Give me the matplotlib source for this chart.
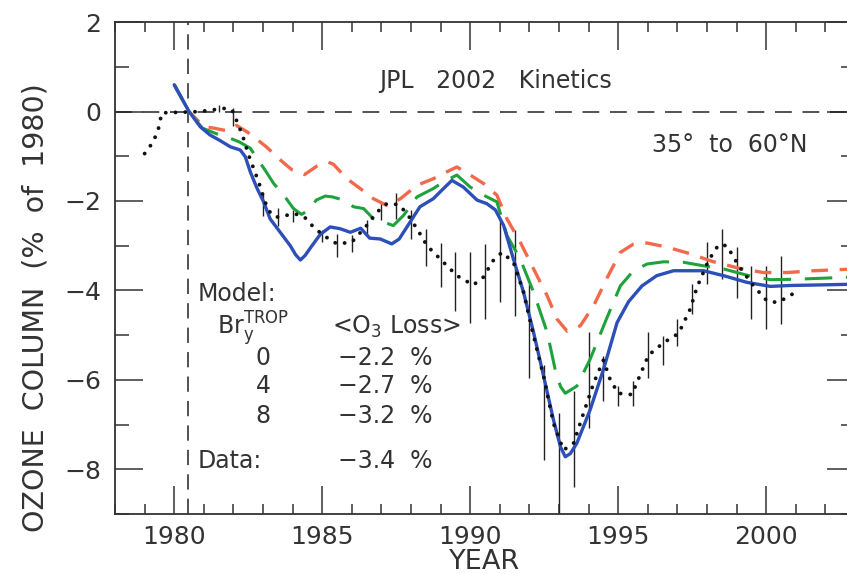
"""
column ozone trend, 35-60N, model runs with different Bry(TROP) vs data
"""

import numpy as np
import matplotlib.pyplot as plt
from matplotlib.ticker import MultipleLocator

plt.rcParams["font.family"] = ["DejaVu Sans"]

# model, Bry_TROP = 8 ppt
yr_b8 = [1980.0, 1980.5, 1980.88, 1981.2, 1981.55, 1981.9, 1982.23, 1982.4, 1982.57,
         1982.8, 1983.02, 1983.24, 1983.58, 1983.92, 1984.1, 1984.26, 1984.42, 1984.6,
         1984.93, 1985.27, 1985.6, 1985.95, 1986.3, 1986.6, 1986.96, 1987.35, 1987.6,
         1987.97, 1988.3, 1988.75, 1989.1, 1989.38, 1989.77, 1990.23, 1990.56, 1990.85,
         1991.13, 1991.46, 1991.8, 1992.14, 1992.48, 1992.81, 1993.05, 1993.21, 1993.38,
         1993.6, 1994.05, 1994.5, 1994.96, 1995.35, 1995.8, 1996.3, 1996.87, 1997.43,
         1997.88, 1998.56, 1999.35, 2000.14, 2000.8, 2001.6, 2003.0]
o3_b8 = [0.6, 0.0, -0.34, -0.52, -0.65, -0.79, -0.86, -1.01, -1.35,
         -1.72, -2.02, -2.4, -2.7, -3.0, -3.2, -3.32, -3.22, -3.05,
         -2.75, -2.58, -2.62, -2.70, -2.61, -2.83, -2.85, -2.96, -2.85,
         -2.47, -2.13, -1.95, -1.72, -1.54, -1.69, -1.98, -2.06, -2.2,
         -2.55, -3.30, -4.04, -4.94, -5.92, -6.89, -7.5, -7.72, -7.65,
         -7.42, -6.67, -5.77, -4.72, -4.25, -3.9, -3.67, -3.56, -3.56,
         -3.56, -3.67, -3.82, -3.91, -3.89, -3.88, -3.86]

# model, Bry_TROP = 4 ppt
yr_b4 = [1980.0, 1980.5, 1980.95, 1981.44, 1981.9, 1982.2, 1982.57, 1982.8, 1983.07,
         1983.36, 1983.7, 1984.03, 1984.3, 1984.55, 1984.8, 1985.1, 1985.35, 1985.72,
         1986.06, 1986.4, 1986.73, 1987.07, 1987.4, 1987.75, 1988.2, 1988.76, 1989.1,
         1989.55, 1990.0, 1990.45, 1990.9, 1991.24, 1991.69, 1992.14, 1992.6, 1992.87,
         1993.05, 1993.21, 1993.6, 1994.05, 1994.6, 1995.07, 1995.5, 1995.97, 1996.53,
         1997.2, 1997.88, 1998.56, 1999.35, 2000.14, 2001.0, 2003.0]
o3_b4 = [0.6, 0.0, -0.37, -0.5, -0.6, -0.68, -0.82, -1.05, -1.31,
         -1.61, -1.87, -2.17, -2.3, -2.2, -1.98, -1.89, -1.91, -1.98,
         -2.13, -2.17, -2.40, -2.47, -2.55, -2.32, -1.91, -1.72, -1.57,
         -1.42, -1.69, -1.87, -2.02, -2.77, -3.30, -4.04, -4.94, -5.77,
         -6.15, -6.30, -6.14, -5.54, -4.64, -3.9, -3.57, -3.41, -3.36,
         -3.37, -3.45, -3.52, -3.66, -3.76, -3.75, -3.70]

# model, Bry_TROP = 0
yr_b0 = [1980.0, 1980.5, 1981.0, 1981.33, 1981.78, 1982.1, 1982.57, 1983.13, 1983.58,
         1983.97, 1984.4, 1984.82, 1985.2, 1985.38, 1985.83, 1986.28, 1986.73, 1987.18,
         1987.64, 1988.2, 1988.76, 1989.2, 1989.55, 1990.0, 1990.45, 1990.9, 1991.24,
         1991.69, 1992.14, 1992.6, 1992.93, 1993.27, 1993.72, 1994.17, 1994.6, 1995.07,
         1995.5, 1995.97, 1996.64, 1997.43, 1998.22, 1999.12, 1999.9, 2000.7, 2001.6,
         2003.0]
o3_b0 = [0.6, 0.0, -0.34, -0.37, -0.43, -0.31, -0.5, -0.8, -1.08,
         -1.3, -1.41, -1.22, -1.13, -1.18, -1.5, -1.72, -1.95, -2.1,
         -1.95, -1.65, -1.5, -1.35, -1.24, -1.42, -1.61, -1.87, -2.40,
         -2.92, -3.52, -4.12, -4.64, -4.91, -4.79, -4.34, -3.75, -3.15,
         -2.97, -2.94, -3.03, -3.18, -3.36, -3.51, -3.60, -3.60, -3.56,
         -3.52]

# observations
yr_obs = [1979.0, 1979.3, 1979.47, 1979.58, 1980.0, 1980.5, 1980.88, 1981.33, 1981.67,
          1981.95, 1982.17, 1982.34, 1982.51, 1982.68, 1982.85, 1982.96, 1983.13, 1983.3,
          1983.5, 1983.8, 1984.05, 1984.4, 1984.7, 1985.04, 1985.5, 1986.0, 1986.5,
          1986.85, 1987.18, 1987.58, 1987.86, 1988.2, 1988.54, 1988.99, 1989.55, 1990.1,
          1990.45, 1990.75, 1991.07, 1991.46, 1991.8, 1992.14, 1992.48, 1992.81, 1993.15,
          1993.49, 1993.83, 1994.17, 1994.5, 1994.73, 1995.0, 1995.46, 1996.02, 1996.53,
          1997.04, 1997.43, 1997.66, 1998.05, 1998.39, 1998.67, 1999.07, 1999.57, 2000.02,
          2000.36, 2000.7, 2000.98]
o3_obs = [-0.94, -0.67, -0.37, -0.03, -0.02, -0.01, 0.0, 0.04, 0.07,
          0.04, -0.3, -0.6, -0.97, -1.27, -1.57, -1.8, -2.13, -2.32,
          -2.36, -2.32, -2.28, -2.36, -2.58, -2.77, -2.96, -2.92, -2.55,
          -2.25, -2.06, -2.08, -2.28, -2.62, -3.0, -3.30, -3.67, -3.88,
          -3.7, -3.35, -3.15, -3.37, -4.04, -5.02, -5.92, -6.97, -7.57,
          -7.42, -6.74, -6.07, -5.56, -6.0, -6.3, -6.33, -5.45, -5.17,
          -4.96, -4.42, -3.93, -3.33, -2.98, -3.0, -3.45, -3.90, -4.23,
          -4.27, -4.16, -4.04]

# observational uncertainty ranges
bar_yr = [1981.5, 1982.0, 1983.0, 1983.5, 1984.0, 1985.0, 1985.5, 1986.0, 1986.5,
          1987.0, 1987.5, 1988.0, 1988.5, 1989.0, 1989.5, 1990.0, 1990.5, 1991.0,
          1991.5, 1992.0, 1992.5, 1993.0, 1993.5, 1994.0, 1994.5, 1995.0, 1995.5,
          1996.0, 1996.5, 1997.0, 1997.5, 1998.0, 1998.5, 1999.0, 1999.5, 2000.0,
          2000.5]
bar_hi = [0.15, 0.07, -1.85, -2.15, -2.21, -2.64, -2.73, -2.77, -2.43,
          -2.02, -1.83, -2.20, -2.62, -2.94, -3.15, -3.15, -2.96, -2.43,
          -2.66, -3.86, -5.66, -6.74, -6.25, -4.94, -5.47, -6.14, -6.03,
          -4.94, -5.02, -4.64, -3.86, -2.92, -2.62, -3.03, -3.45, -3.45,
          -3.22]
bar_lo = [-0.02, -0.32, -2.34, -2.55, -2.47, -2.92, -3.26, -3.15, -2.77,
          -2.43, -2.40, -2.85, -3.45, -3.93, -4.46, -4.72, -4.64, -4.25,
          -4.57, -5.96, -7.79, -9.0, -8.39, -7.08, -6.48, -6.59, -6.59,
          -5.96, -5.66, -5.24, -4.53, -3.86, -3.75, -4.16, -4.64, -4.87,
          -4.76]

bry_levels = ["0", "4", "8"]
model_loss = ["\u22122.2  %", "\u22122.7  %", "\u22123.2  %"]
data_loss = "\u22123.4  %"

ink = "#333333"

fig = plt.figure(figsize=(8.47, 5.74), dpi=100)
ax = fig.add_axes([0.1358, 0.1045, 0.8737, 0.857])

ax.axhline(0, color="#222222", lw=1.1, ls=(0, (11, 7)))
ax.axvline(1980.47, color="#222222", lw=1.1, ls=(0, (10, 6)))

ax.vlines(bar_yr, bar_lo, bar_hi, color="#222222", lw=1.0)

ax.plot(yr_b0, o3_b0, color="#f26a4b", lw=2.4, ls=(0, (5, 3.5)))
ax.plot(yr_b4, o3_b4, color="#1fa23c", lw=2.2, ls=(0, (9, 4.5)))
ax.plot(yr_b8, o3_b8, color="#2c4fb8", lw=2.4, solid_capstyle="round",
        solid_joinstyle="round")
ax.plot(yr_obs, o3_obs, color="#111111", lw=2.8, ls=(0, (0.01, 2.5)),
        dash_capstyle="round")

ax.set_xlim(1978, 2003)
ax.set_ylim(-9, 2)

ax.xaxis.set_major_locator(MultipleLocator(5))
ax.xaxis.set_minor_locator(MultipleLocator(1))
ax.yaxis.set_major_locator(MultipleLocator(2))
ax.yaxis.set_minor_locator(MultipleLocator(1))

ax.tick_params(axis="both", which="both", direction="in", top=True, right=True,
               color=ink, labelcolor=ink, labelsize=18)
ax.tick_params(axis="x", which="major", length=20, width=1.1, pad=8)
ax.tick_params(axis="x", which="minor", length=7, width=1.1)
ax.tick_params(axis="y", which="major", length=20, width=1.1, pad=10)
ax.tick_params(axis="y", which="minor", length=10, width=1.1)

for side in ["left", "bottom", "top", "right"]:
    ax.spines[side].set_color(ink)
    ax.spines[side].set_linewidth(1.3)

ax.set_xlabel("YEAR", fontsize=19.5, color=ink)
ax.set_ylabel("OZONE  COLUMN  (%  of  1980)", fontsize=20.5, color=ink)
ax.xaxis.set_label_coords(0.5, -0.072)
ax.yaxis.set_label_coords(-0.088, 0.42)

fs = 17
ax.text(1990.85, 0.52, "JPL   2002   Kinetics", fontsize=fs, color=ink,
        ha="center", va="baseline")
ax.text(1998.78, -0.90, "35\u00b0  to  60\u00b0N", fontsize=fs, color=ink,
        ha="center", va="baseline")

ax.text(1980.78, -4.23, "Model:", fontsize=fs, color=ink, va="baseline")
ax.text(1981.45, -4.98, r"Br$_{\mathrm{y}}^{\mathrm{TROP}}$", fontsize=fs,
        color=ink, va="baseline")
ax.text(1985.34, -4.98, r"<O$_3$ Loss>", fontsize=fs, color=ink, va="baseline")

row_y = [-5.66, -6.29, -6.97]
for lev, loss, yy in zip(bry_levels, model_loss, row_y):
    ax.text(1983.0, yy, lev, fontsize=fs, color=ink, ha="center", va="baseline")
    ax.text(1985.54, yy, loss, fontsize=fs, color=ink, va="baseline")

ax.text(1980.78, -7.98, "Data:", fontsize=fs, color=ink, va="baseline")
ax.text(1985.54, -7.98, data_loss, fontsize=fs, color=ink, va="baseline")

fig.savefig("out.png", dpi=100)
